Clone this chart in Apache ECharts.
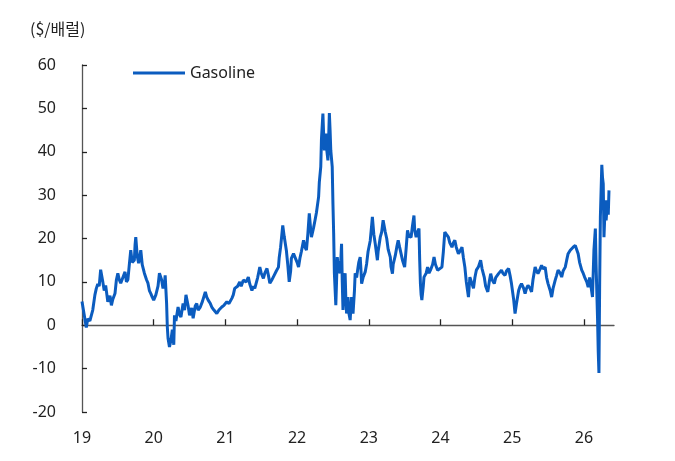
<!DOCTYPE html>
<html>
<head>
<meta charset="utf-8">
<script src="https://cdn.jsdelivr.net/npm/echarts@6/dist/echarts.min.js"></script>
<style>
  html, body { margin: 0; padding: 0; background: #fff; }
  #chart { width: 675px; height: 461px; }
</style>
</head>
<body>
<div id="chart"></div>
<script>
// x = year (yy + fraction of year), y = gasoline crack spread ($/barrel)
var dates = [
  19.00, 19.03, 19.06, 19.08, 19.11, 19.15, 19.18, 19.20, 19.22, 19.24, 19.26, 19.29, 19.31, 19.33, 19.36, 19.39,
  19.41, 19.43, 19.46, 19.48, 19.50, 19.52, 19.54, 19.57, 19.60, 19.62, 19.64, 19.66, 19.68, 19.70, 19.73, 19.74,
  19.75, 19.77, 19.79, 19.82, 19.84, 19.87, 19.90, 19.92, 19.94, 19.96, 19.98, 20.00, 20.03, 20.06, 20.08, 20.11,
  20.13, 20.15, 20.16, 20.18, 20.19, 20.20, 20.22, 20.24, 20.26, 20.28, 20.29, 20.31, 20.34, 20.36, 20.38, 20.41,
  20.43, 20.45, 20.48, 20.50, 20.53, 20.55, 20.58, 20.60, 20.62, 20.65, 20.68, 20.72, 20.74, 20.76, 20.79, 20.81,
  20.84, 20.88, 20.91, 20.95, 20.98, 21.02, 21.05, 21.09, 21.11, 21.13, 21.17, 21.20, 21.22, 21.25, 21.29, 21.32,
  21.34, 21.37, 21.39, 21.41, 21.45, 21.48, 21.50, 21.53, 21.55, 21.58, 21.60, 21.62, 21.65, 21.68, 21.71, 21.74,
  21.75, 21.77, 21.80, 21.82, 21.85, 21.87, 21.89, 21.91, 21.92, 21.95, 21.97, 22.00, 22.02, 22.04, 22.06, 22.09,
  22.11, 22.13, 22.15, 22.17, 22.19, 22.20, 22.23, 22.25, 22.27, 22.30, 22.31, 22.33, 22.34, 22.36, 22.37, 22.38,
  22.39, 22.40, 22.41, 22.43, 22.44, 22.45, 22.46, 22.47, 22.49, 22.50, 22.51, 22.52, 22.54, 22.55, 22.56, 22.58,
  22.60, 22.61, 22.62, 22.63, 22.64, 22.65, 22.67, 22.68, 22.69, 22.70, 22.71, 22.72, 22.74, 22.75, 22.76, 22.77,
  22.78, 22.80, 22.81, 22.83, 22.85, 22.86, 22.88, 22.89, 22.90, 22.92, 22.95, 22.97, 22.99, 23.02, 23.04, 23.05,
  23.07, 23.09, 23.12, 23.13, 23.16, 23.18, 23.20, 23.23, 23.25, 23.27, 23.30, 23.31, 23.33, 23.34, 23.37, 23.39,
  23.41, 23.43, 23.45, 23.47, 23.50, 23.52, 23.54, 23.56, 23.59, 23.61, 23.63, 23.64, 23.66, 23.68, 23.70, 23.71,
  23.72, 23.73, 23.74, 23.76, 23.77, 23.80, 23.82, 23.84, 23.86, 23.89, 23.91, 23.93, 23.96, 23.98, 24.02, 24.04,
  24.06, 24.08, 24.11, 24.13, 24.16, 24.18, 24.20, 24.22, 24.25, 24.27, 24.30, 24.32, 24.34, 24.36, 24.39, 24.41,
  24.43, 24.46, 24.48, 24.50, 24.53, 24.56, 24.58, 24.61, 24.63, 24.66, 24.68, 24.70, 24.72, 24.75, 24.77, 24.81,
  24.83, 24.85, 24.87, 24.90, 24.92, 24.95, 24.97, 24.99, 25.02, 25.04, 25.06, 25.09, 25.11, 25.13, 25.16, 25.18,
  25.20, 25.22, 25.25, 25.27, 25.29, 25.32, 25.34, 25.36, 25.39, 25.41, 25.43, 25.46, 25.48, 25.50, 25.53, 25.55,
  25.57, 25.60, 25.62, 25.64, 25.67, 25.69, 25.71, 25.74, 25.76, 25.78, 25.81, 25.83, 25.85, 25.88, 25.90, 25.92,
  25.94, 25.97, 25.99, 26.01, 26.04, 26.06, 26.08, 26.09, 26.12, 26.13, 26.14, 26.16, 26.17, 26.19, 26.20, 26.21,
  26.22, 26.23, 26.25, 26.26, 26.27, 26.28, 26.30, 26.31, 26.33, 26.34, 26.35
];
var gasoline = [
  5.5, 2.5, -0.5, 1.5, 1.0, 3.5, 7.0, 8.5, 9.5, 9.0, 12.8, 10.0, 8.0, 9.2, 5.4, 6.8,
  4.6, 6.0, 7.3, 10.5, 12.0, 10.5, 9.7, 11.0, 12.3, 10.0, 10.5, 14.0, 17.3, 14.5, 15.0, 18.5,
  20.3, 16.0, 14.3, 17.3, 14.0, 12.0, 10.5, 9.7, 8.0, 7.3, 6.5, 5.8, 7.0, 9.0, 12.0, 10.5,
  8.5, 9.5, 11.5, 5.0, -0.4, -3.0, -5.0, -3.5, -1.0, -4.5, 2.3, 1.0, 4.2, 2.5, 1.9, 5.0,
  3.5, 7.0, 4.5, 2.3, 4.0, 1.6, 4.5, 5.0, 3.5, 4.2, 5.5, 7.7, 6.5, 5.8, 5.0, 4.2,
  3.5, 2.7, 3.5, 4.2, 4.6, 5.4, 5.0, 6.2, 7.0, 8.5, 9.0, 10.0, 9.0, 10.4, 10.0, 11.1,
  9.5, 8.0, 9.0, 8.5, 11.0, 13.4, 12.0, 10.8, 12.0, 13.1, 11.5, 9.7, 10.5, 11.5, 12.5, 13.4,
  15.5, 18.0, 23.0, 20.5, 17.3, 14.0, 10.0, 12.5, 15.4, 16.5, 16.1, 14.5, 13.4, 15.5, 17.0, 19.6,
  18.0, 17.3, 21.0, 25.8, 22.0, 20.3, 22.5, 24.2, 26.0, 29.6, 33.0, 36.5, 43.0, 48.8, 44.0, 40.3,
  42.0, 44.2, 41.0, 38.0, 43.0, 48.9, 45.0, 40.3, 36.5, 28.0, 21.2, 12.0, 4.6, 10.0, 15.7, 13.0,
  12.0, 15.0, 18.8, 10.0, 3.5, 8.0, 12.0, 6.0, 2.7, 5.0, 6.5, 3.0, 1.2, 4.0, 6.5, 4.0,
  2.7, 8.0, 12.0, 11.0, 13.4, 14.5, 15.7, 13.0, 9.6, 11.0, 12.3, 14.2, 17.0, 19.5, 23.0, 25.0,
  21.0, 18.8, 15.0, 17.0, 20.3, 21.5, 24.2, 21.5, 20.0, 17.5, 15.7, 13.5, 11.9, 14.0, 16.1, 18.0,
  19.6, 18.0, 16.5, 15.0, 13.4, 17.5, 21.9, 20.5, 20.3, 23.0, 25.3, 22.0, 20.3, 21.5, 22.3, 15.0,
  9.6, 7.0, 5.8, 9.0, 11.1, 12.0, 13.4, 12.0, 12.7, 14.0, 15.7, 14.0, 12.7, 13.0, 13.4, 17.0,
  21.5, 21.0, 20.3, 19.0, 18.0, 19.0, 19.6, 18.0, 16.5, 17.0, 18.0, 15.5, 13.4, 10.0, 6.5, 11.1,
  11.1, 8.5, 11.0, 12.7, 13.5, 15.0, 13.0, 11.1, 9.0, 7.7, 10.0, 11.9, 10.5, 9.6, 11.0, 11.9,
  11.5, 12.7, 12.0, 11.5, 12.5, 13.1, 11.5, 9.6, 6.0, 2.7, 5.0, 8.0, 9.0, 9.6, 8.5, 7.3,
  8.5, 9.2, 8.5, 7.7, 10.5, 13.4, 12.5, 11.9, 13.0, 13.8, 13.0, 13.4, 11.0, 9.6, 8.0, 6.5,
  8.5, 10.4, 11.5, 12.7, 12.0, 11.1, 12.5, 13.4, 15.0, 16.5, 17.3, 17.3, 18.0, 18.4, 18.4, 16.5,
  14.5, 12.7, 12.0, 11.1, 10.0, 8.8, 11.0, 10.0, 6.5, 12.0, 17.3, 22.3, 14.0, 1.9, -6.0, -11.0,
  9.6, 25.0, 37.0, 34.0, 32.6, 20.3, 28.8, 24.2, 28.8, 25.5, 31.1
];
var yearTicks = [19, 20, 21, 22, 23, 24, 25, 26];

var seriesData = [];
for (var i = 0; i < dates.length; i++) {
  seriesData.push([dates[i], gasoline[i]]);
}

var chart = echarts.init(document.getElementById('chart'));
var fontFamily = '"Noto Sans", "Noto Sans CJK KR", sans-serif';

var option = {
  animation: false,
  textStyle: { fontFamily: fontFamily },
  graphic: [
    {
      type: 'text',
      left: 30,
      top: 21,
      style: {
        text: '($/배럴)',
        font: '16px "Noto Sans CJK KR", sans-serif',
        fill: '#222'
      }
    }
  ],
  legend: {
    left: 133,
    top: 65,
    padding: 0,
    icon: 'rect',
    itemWidth: 52,
    itemHeight: 3,
    textStyle: { fontSize: 16, color: '#222', fontFamily: fontFamily },
    data: ['Gasoline']
  },
  grid: {
    left: 82,
    right: 61,
    top: 65,
    bottom: 49
  },
  xAxis: [
    {
      type: 'value',
      min: 19,
      max: 26.42,
      position: 'bottom',
      axisLine: { show: true, onZero: true, lineStyle: { color: '#555', width: 1.3 } },
      axisTick: {
        show: true,
        inside: true,
        length: 6,
        customValues: yearTicks,
        lineStyle: { color: '#222', width: 1.3 }
      },
      axisLabel: { show: false },
      splitLine: { show: false }
    },
    {
      type: 'value',
      min: 19,
      max: 26.42,
      position: 'bottom',
      axisLine: { show: false, onZero: false },
      axisTick: { show: false },
      axisLabel: {
        show: true,
        customValues: yearTicks,
        margin: 18,
        fontSize: 16,
        color: '#222',
        fontFamily: fontFamily
      },
      splitLine: { show: false }
    }
  ],
  yAxis: {
    type: 'value',
    min: -20,
    max: 60,
    interval: 10,
    axisLine: { show: true, lineStyle: { color: '#555', width: 1.3 } },
    axisTick: { show: true, inside: true, length: 5, lineStyle: { color: '#222', width: 1.3 } },
    axisLabel: { margin: 26, fontSize: 16, color: '#222', fontFamily: fontFamily },
    splitLine: { show: false }
  },
  series: [
    {
      name: 'Gasoline',
      type: 'line',
      xAxisIndex: 0,
      symbol: 'none',
      color: '#0b5cbf',
      lineStyle: { width: 3, color: '#0b5cbf' },
      data: seriesData
    }
  ]
};

chart.setOption(option);
</script>
</body>
</html>
